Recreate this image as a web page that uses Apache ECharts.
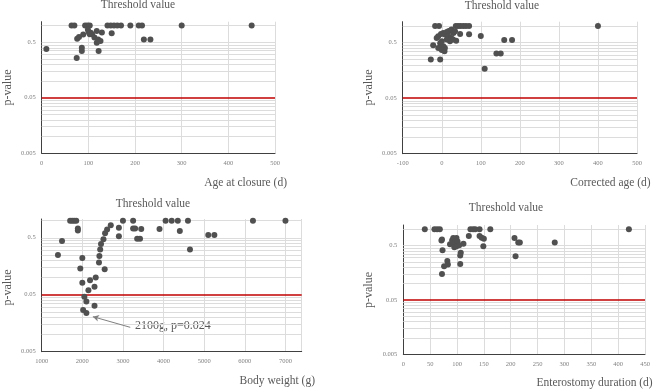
<!DOCTYPE html>
<html><head><meta charset="utf-8">
<script src="https://cdn.jsdelivr.net/npm/echarts@6/dist/echarts.min.js"></script>
<style>html,body{margin:0;padding:0;background:#fff}#c{width:660px;height:390px}</style>
</head><body><div id="c"></div>
<script>
// ---------- data ----------
const yTickLabels = ['0.005', '0.05', '0.5'];
const gridValues = [0.01,0.015,0.02,0.025,0.03,0.035,0.04,0.045,
                    0.1,0.15,0.2,0.25,0.3,0.35,0.4,0.45,0.5,1.0];
const threshold = 0.05;

const ageAtClosure = [
  [64,1],[70,1],[93,1],[98,1],[103,1],[141,1],[148,1],[155,1],[162,1],[170,1],[190,1],[208,1],[215,1],[300,1],[450,1],
  [10,0.38],[75,0.26],[76,0.58],[80,0.62],[86,0.40],[86,0.35],[89,0.69],[99,0.84],[101,0.76],[103,0.70],
  [105,0.74],[108,0.70],[113,0.61],[118,0.80],[118,0.49],[121,0.56],[122,0.35],[126,0.53],[129,0.75],
  [150,0.73],[219,0.56],[233,0.56]
];
const correctedAge = [
  [-17,1],[-7,1],[36,1],[42,1],[48,1],[55,1],[62,1],[70,1],[400,1],
  [-28,0.25],[-4,0.25],[-22,0.45],[-13,0.61],[-9,0.65],[-2,0.72],[4,0.75],[8,0.70],[13,0.78],[17,0.80],
  [21,0.82],[25,0.86],[30,0.75],[34,0.80],[17,0.65],[24,0.61],[13,0.57],[0,0.53],[-4,0.49],[4,0.43],
  [8,0.40],[-2,0.42],[-9,0.40],[0,0.37],[7,0.35],[21,0.53],[25,0.57],[29,0.57],[37,0.54],[47,0.72],
  [70,0.71],[100,0.66],[110,0.17],[140,0.32],[151,0.32],[160,0.56],[180,0.56]
];
const bodyWeight = [
  [1700,1],[1750,1],[1800,1],[1850,1],[3000,1],[3250,1],[4050,1],[4200,1],[4350,1],[4600,1],[6200,1],[7000,1],
  [1400,0.25],[1500,0.44],[1890,0.73],[1890,0.67],[1950,0.145],[2000,0.22],[2000,0.081],[2020,0.027],
  [2050,0.046],[2100,0.038],[2100,0.024],[2150,0.06],[2190,0.09],[2300,0.069],[2300,0.032],[2330,0.1],
  [2410,0.185],[2420,0.24],[2440,0.31],[2460,0.39],[2520,0.47],[2550,0.14],[2560,0.60],[2610,0.70],
  [2700,0.83],[2900,0.75],[2900,0.53],[3250,0.73],[3300,0.73],[3350,0.48],[3420,0.48],[3450,0.71],
  [3900,0.71],[4400,0.66],[4650,0.31],[5100,0.56],[5250,0.56]
];
const enterostomyDuration = [
  [40,1],[58,1],[63,1],[68,1],[125,1],[130,1],[134,1],[142,1],[162,1],[420,1],
  [71,0.62],[72,0.65],[73,0.41],[72,0.15],[76,0.21],[82,0.26],[83,0.225],[87,0.53],[91,0.63],[93,0.69],
  [96,0.57],[99,0.69],[101,0.60],[95,0.47],[99,0.49],[104,0.51],[112,0.545],[107,0.37],[106,0.33],
  [106,0.23],[122,0.755],[142,0.755],[146,0.70],[150,0.67],[149,0.49],[207,0.69],[214,0.57],[217,0.57],
  [209,0.32],[282,0.57]
];
const xNames = ['Age at closure (d)', 'Corrected age (d)', 'Body weight (g)', 'Enterostomy duration (d)'];
const titleText = 'Threshold value';
const yName = 'p-value';
const annotationText = '2100g, p=0.024';
const annotationFrom = [3180, 0.0134];
const annotationTo = [2260, 0.0206];

// ---------- helpers ----------
const yBase = 0.005;
const ly = p => Math.log10(p / yBase);
const FONT = '"Liberation Serif", "Times New Roman", serif';

const panels = [
  {data: ageAtClosure, grid: {left: 41.7, top: 21.7, width: 233.3, height: 131.6}, ymax: 2.371, xmin: 0, xmax: 500, xint: 100, lastLabel: 500,
   title: [138, 5], yname: [7.5, 87.5], xname: [287, 182.5]},
  {data: correctedAge, grid: {left: 402.7, top: 21.7, width: 234.3, height: 132}, ymax: 2.378, xmin: -100, xmax: 500, xint: 100, lastLabel: 500,
   title: [502, 6], yname: [369.3, 87.5], xname: [650.7, 183]},
  {data: bodyWeight, grid: {left: 41.7, top: 219, width: 260, height: 132.7}, ymax: 2.33, xmin: 1000, xmax: 7400, xint: 1000, lastLabel: 7000,
   title: [153, 204], yname: [7.5, 287.5], xname: [315, 381]},
  {data: enterostomyDuration, grid: {left: 403.3, top: 225, width: 241.7, height: 129.3}, ymax: 2.381, xmin: 0, xmax: 450, xint: 50, lastLabel: 450,
   title: [506, 208], yname: [369.3, 290], xname: [652.7, 383]}
];

const grids = [], xAxes = [], yAxes = [], series = [], graphics = [];
panels.forEach((pn, i) => {
  grids.push(Object.assign({containLabel: false}, pn.grid));
  xAxes.push({
    type: 'value', gridIndex: i, min: pn.xmin, max: pn.xmax, interval: pn.xint,
    axisLine: {show: true, onZero: false, lineStyle: {color: '#404040', width: 1}},
    axisTick: {show: false},
    axisLabel: {
      fontSize: 6.5, color: '#808080', fontFamily: FONT, margin: 6,
      formatter: v => (v > pn.lastLabel + 1e-6) ? '' : String(v)
    },
    splitLine: {show: true, lineStyle: {color: '#dcdcdc', width: 1}}
  });
  yAxes.push({
    type: 'value', gridIndex: i, min: 0, max: pn.ymax, interval: 1,
    axisLine: {show: true, onZero: false, lineStyle: {color: '#404040', width: 1}},
    axisTick: {show: false},
    axisLabel: {
      fontSize: 6.5, color: '#808080', fontFamily: FONT, margin: 6,
      formatter: v => {
        const r = Math.round(v);
        return (Math.abs(v - r) < 1e-6 && yTickLabels[r] !== undefined) ? yTickLabels[r] : '';
      }
    },
    splitLine: {show: false}
  });
  const mlData = gridValues.map(g => ({yAxis: ly(g), lineStyle: {color: '#dcdcdc', width: 1, type: 'solid'}}));
  mlData.push({yAxis: ly(threshold), lineStyle: {color: '#c00000', width: 1.6, type: 'solid'}});
  series.push({
    type: 'scatter', xAxisIndex: i, yAxisIndex: i, z: 4,
    symbolSize: 6, itemStyle: {color: '#505050', opacity: 1},
    data: pn.data.map(d => [d[0], ly(d[1])]),
    markLine: {silent: true, symbol: 'none', z: 1, animation: false, label: {show: false}, data: mlData}
  });
  graphics.push({type: 'text', x: pn.title[0], y: pn.title[1],
    style: {text: titleText, align: 'center', verticalAlign: 'middle', font: '11.5px ' + FONT, fill: '#595959'}});
  graphics.push({type: 'text', x: pn.yname[0], y: pn.yname[1], rotation: Math.PI / 2,
    style: {text: yName, align: 'center', verticalAlign: 'middle', font: '12px ' + FONT, fill: '#595959'}});
  graphics.push({type: 'text', x: pn.xname[0], y: pn.xname[1],
    style: {text: xNames[i], align: 'right', verticalAlign: 'middle', font: '11.5px ' + FONT, fill: '#595959'}});
});

// annotation arrow in panel 3
series.push({
  type: 'scatter', xAxisIndex: 2, yAxisIndex: 2, data: [], z: 5,
  markLine: {
    silent: true, animation: false, symbol: ['none', 'arrow'], symbolSize: [5, 6], z: 5,
    label: {show: false},
    lineStyle: {color: '#808080', width: 1, type: 'solid'},
    data: [[{coord: [annotationFrom[0], ly(annotationFrom[1])]}, {coord: [annotationTo[0], ly(annotationTo[1])]}]]
  }
});
graphics.push({type: 'text', x: 135, y: 326,
  style: {text: annotationText, align: 'left', verticalAlign: 'middle', font: '12px ' + FONT, fill: '#595959'}});

const chart = echarts.init(document.getElementById('c'), null, {renderer: 'canvas'});
chart.setOption({
  animation: false,
  backgroundColor: '#ffffff',
  grid: grids, xAxis: xAxes, yAxis: yAxes, series: series, graphic: graphics
});
</script></body></html>
